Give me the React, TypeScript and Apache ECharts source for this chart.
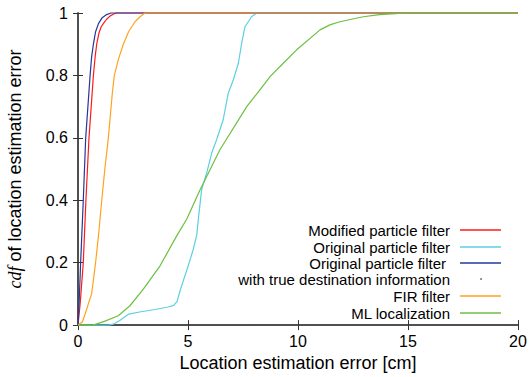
import React, { useEffect, useRef } from "react";
import * as echarts from "echarts";

// Modified particle filter
const modifiedX = [0, 0.1, 0.24, 0.36, 0.5, 0.6, 0.7, 0.78, 0.85, 0.95, 1.05, 1.15, 1.3, 1.45, 1.6, 1.75, 20];
const modifiedY = [0, 0.07, 0.2, 0.4, 0.6, 0.7, 0.8, 0.86, 0.9, 0.935, 0.955, 0.966, 0.98, 0.99, 0.996, 1, 1];

// Original particle filter
const originalX = [0, 1.4, 1.6, 1.9, 2.1, 2.3, 2.8, 3.5, 4.1, 4.35, 4.5, 4.64, 4.8, 5.01, 5.24, 5.4, 5.47, 5.55, 5.62, 5.85, 6.08, 6.3, 6.6, 6.83, 7.06, 7.29, 7.44, 7.59, 7.89, 8.12, 20];
const originalY = [0, 0, 0.003, 0.015, 0.025, 0.035, 0.042, 0.05, 0.058, 0.063, 0.075, 0.11, 0.145, 0.19, 0.243, 0.29, 0.339, 0.39, 0.434, 0.488, 0.552, 0.594, 0.658, 0.743, 0.786, 0.839, 0.903, 0.956, 0.988, 1, 1];

// Original particle filter with true destination information
const trueDestX = [0, 0.05, 0.12, 0.24, 0.35, 0.45, 0.55, 0.62, 0.7, 0.8, 0.93, 1.1, 1.3, 1.5, 20];
const trueDestY = [0, 0.07, 0.2, 0.4, 0.6, 0.7, 0.8, 0.86, 0.9, 0.94, 0.966, 0.985, 0.995, 1, 1];

// FIR filter
const firX = [0, 0.2, 0.39, 0.5, 0.62, 0.8, 0.95, 1.08, 1.22, 1.38, 1.56, 1.65, 1.83, 2.06, 2.3, 2.59, 2.82, 3.05, 20];
const firY = [0, 0.01, 0.05, 0.075, 0.1, 0.2, 0.3, 0.4, 0.5, 0.6, 0.743, 0.8, 0.85, 0.9, 0.94, 0.972, 0.988, 1, 1];

// ML localization
const mlX = [0, 0.68, 1.2, 1.83, 2.36, 2.97, 3.73, 4.48, 4.94, 5.55, 6.45, 7.67, 8.27, 8.73, 9.33, 9.94, 11, 11.45, 11.9, 12.97, 13.7, 15, 20];
const mlY = [0, 0, 0.012, 0.03, 0.062, 0.115, 0.19, 0.285, 0.339, 0.434, 0.562, 0.7, 0.754, 0.796, 0.839, 0.882, 0.946, 0.962, 0.972, 0.988, 0.995, 1, 1];

const seriesNames = [
  "Modified particle filter",
  "Original particle filter",
  "Original particle filter",
  "FIR filter",
  "ML localization",
];
const seriesColors = ["#ff1a1a", "#5ccfe3", "#24389a", "#ffa31f", "#6cc040"];
const xTicks = { min: 0, max: 20, interval: 5 };
const yTicks = { min: 0, max: 1, interval: 0.2 };

const pairs = (xs: number[], ys: number[]) => xs.map((x, i) => [x, ys[i]]);

export default function App() {
  const ref = useRef<HTMLDivElement>(null);
  useEffect(() => {
    if (!ref.current) return;
    const chart = echarts.init(ref.current, null, { renderer: "svg" });
    const font = "'Liberation Sans', Arial, sans-serif";
    const frame = { show: true, lineStyle: { color: "#444", width: 1.5 } };
    const tick = { show: true, inside: true, length: 5, lineStyle: { color: "#333", width: 1 } };
    const datasets = [
      pairs(modifiedX, modifiedY),
      pairs(originalX, originalY),
      pairs(trueDestX, trueDestY),
      pairs(firX, firY),
      pairs(mlX, mlY),
    ];
    const legendRows = [230, 247, 263, 296, 313];
    const legendTextRight = [450, 450, 446, 450, 450];
    const graphics: any[] = [];
    seriesNames.forEach((n, i) => {
      graphics.push({
        type: "text",
        x: legendTextRight[i],
        y: legendRows[i],
        style: { text: n, fontSize: 15, fontFamily: font, fill: "#000", textAlign: "right", textVerticalAlign: "middle" },
      });
      graphics.push({
        type: "line",
        shape: { x1: 460, y1: legendRows[i], x2: 501, y2: legendRows[i] },
        style: { stroke: seriesColors[i], lineWidth: 1.5 },
      });
    });
    graphics.push({
      type: "text",
      x: 450,
      y: 279,
      style: { text: "with true destination information", fontSize: 15, fontFamily: font, fill: "#000", textAlign: "right", textVerticalAlign: "middle" },
    });
    graphics.push({ type: "circle", shape: { cx: 481, cy: 279, r: 0.8 }, style: { fill: "#555" } });
    graphics.push({
      type: "text",
      x: 15,
      y: 169,
      rotation: Math.PI / 2,
      style: {
        text: "{i|cdf} of location estimation error",
        fontSize: 18,
        fontFamily: font,
        fill: "#000",
        textAlign: "center",
        textVerticalAlign: "middle",
        rich: {
          i: { fontFamily: "'Liberation Serif', 'Times New Roman', serif", fontStyle: "italic", fontSize: 18, fill: "#000" },
        },
      },
    });

    chart.setOption({
      animation: false,
      backgroundColor: "#fff",
      grid: { left: 78, right: 12, top: 13, bottom: 51, containLabel: false },
      xAxis: [
        {
          type: "value",
          ...xTicks,
          position: "bottom",
          axisLine: frame,
          axisTick: tick,
          splitLine: { show: false },
          axisLabel: { fontSize: 16, fontFamily: font, color: "#000", margin: 8 },
          name: "Location estimation error [cm]",
          nameLocation: "middle",
          nameGap: 27,
          nameTextStyle: { fontSize: 18, fontFamily: font, color: "#000" },
        },
        {
          type: "value",
          ...xTicks,
          position: "top",
          axisLine: frame,
          axisTick: tick,
          splitLine: { show: false },
          axisLabel: { show: false },
        },
      ],
      yAxis: [
        {
          type: "value",
          ...yTicks,
          position: "left",
          axisLine: frame,
          axisTick: tick,
          splitLine: { show: false },
          axisLabel: { fontSize: 16, fontFamily: font, color: "#000", margin: 10 },
        },
        {
          type: "value",
          ...yTicks,
          position: "right",
          axisLine: frame,
          axisTick: tick,
          splitLine: { show: false },
          axisLabel: { show: false },
        },
      ],
      series: datasets.map((d, i) => ({
        type: "line",
        name: seriesNames[i],
        data: d,
        xAxisIndex: 0,
        yAxisIndex: 0,
        showSymbol: false,
        symbol: "none",
        lineStyle: { color: seriesColors[i], width: 1.2 },
        itemStyle: { color: seriesColors[i] },
        clip: false,
      })),
      graphic: graphics,
    });
    return () => chart.dispose();
  }, []);
  return <div ref={ref} style={{ position: "fixed", left: 0, top: 0, width: 530, height: 377 }} />;
}
